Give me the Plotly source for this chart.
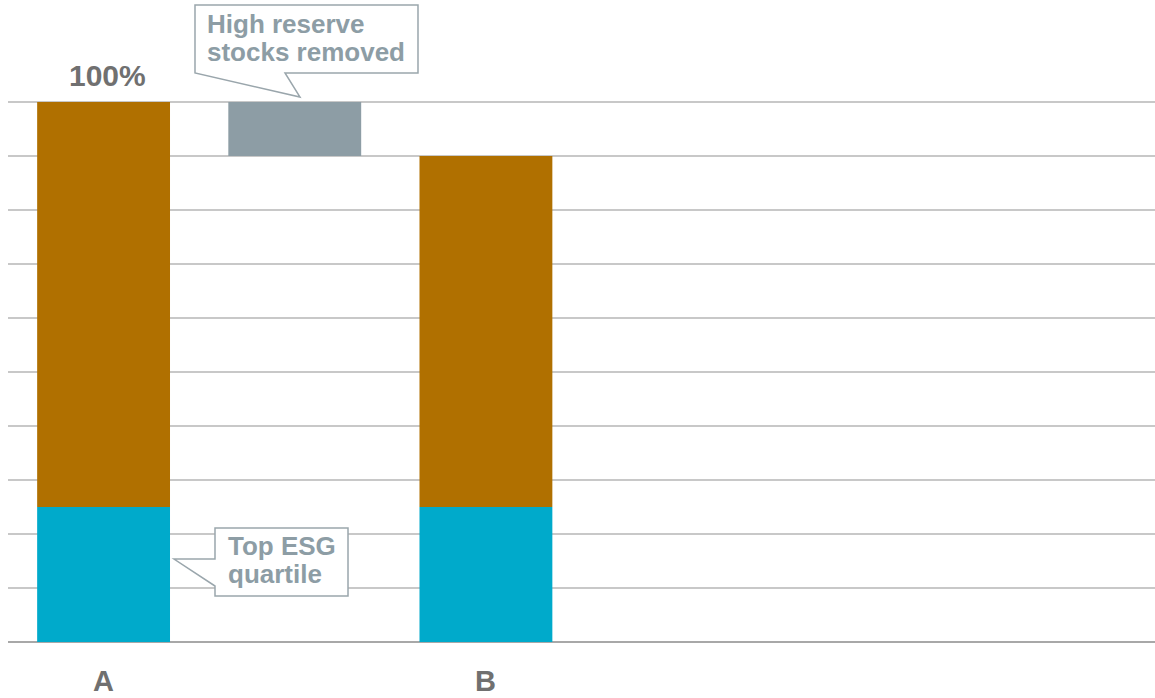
import plotly.graph_objects as go

# ---- data ----
categories = ["A", "High reserve stocks removed", "B"]
x_pos = [0, 1, 2]
top_esg_quartile = [25, 25]          # A, B
rest_of_index = [75, 65]              # A, B
removed_base = [90]
removed_value = [10]
tick_labels = ["A", "B"]
total_label = "100%"

C_CYAN = "#00AACB"
C_BROWN = "#B07000"
C_GRAY = "#8D9DA5"
C_TEXT = "#707070"
C_CALL = "#8D9DA5"
FONT = "Liberation Sans, Arial, sans-serif"

W, H = 1155, 698
HEAD = 4  # px of headroom above the 100 line so its gridline is drawn
L, R, T, B = 8, 0, 102 - HEAD, 56
PW, PH = W - L - R, H - T - B
YMAX = 100 + 100 * HEAD / 540


def px(x):
    return (x - L) / PW


def py(y):
    return (H - B - y) / PH


def path(points):
    return "M " + " L ".join(f"{px(a):.5f},{py(b):.5f}" for a, b in points) + " Z"


fig = go.Figure()
fig.add_trace(go.Bar(x=[x_pos[0], x_pos[2]], y=top_esg_quartile, base=[0, 0],
                     marker=dict(color=C_CYAN, line=dict(width=0)), width=0.695,
                     name="Top ESG quartile"))
fig.add_trace(go.Bar(x=[x_pos[0], x_pos[2]], y=rest_of_index, base=top_esg_quartile,
                     marker=dict(color=C_BROWN, line=dict(width=0)), width=0.695,
                     name="Other"))
fig.add_trace(go.Bar(x=[x_pos[1]], y=removed_value, base=removed_base,
                     marker=dict(color=C_GRAY, line=dict(width=0)), width=0.695,
                     name="High reserve stocks removed"))

fig.update_layout(
    width=W, height=H,
    margin=dict(l=L, r=R, t=T, b=B, pad=0),
    barmode="overlay",
    showlegend=False,
    plot_bgcolor="white", paper_bgcolor="white",
    font=dict(family=FONT),
    xaxis=dict(range=[-0.5, 5.5], showticklabels=False, showgrid=False,
               zeroline=False, showline=False, fixedrange=True),
    yaxis=dict(range=[0, YMAX], tick0=0, dtick=10, showticklabels=False,
               gridcolor="#C8C8C8", gridwidth=1.5, zeroline=True,
               zerolinecolor="#A8A8A8", zerolinewidth=1.5, showline=False,
               fixedrange=True),
)

annotations = []
for xv, lab in zip([x_pos[0], x_pos[2]], tick_labels):
    annotations.append(dict(x=xv, y=py(681), xref="x", yref="paper", text=f"<b>{lab}</b>",
                            showarrow=False, font=dict(size=29, color=C_TEXT, family=FONT),
                            xanchor="center", yanchor="middle"))
annotations.append(dict(x=x_pos[0] + 0.02, y=100, xref="x", yref="y", text=f"<b>{total_label}</b>",
                        showarrow=False, font=dict(size=30, color=C_TEXT, family=FONT),
                        xanchor="center", yanchor="bottom", yshift=8))

# callout texts
for txt, x0, ycen in [("High reserve", 205, 24), ("stocks removed", 205, 52),
                      ("Top ESG", 226, 546), ("quartile", 226, 574)]:
    annotations.append(dict(x=px(x0), y=py(ycen), xref="paper", yref="paper",
                            text=f"<b>{txt}</b>", showarrow=False,
                            font=dict(size=26, color=C_CALL, family=FONT),
                            xanchor="left", yanchor="middle"))
fig.update_layout(annotations=annotations)

shapes = [
    dict(type="path", xref="paper", yref="paper",
         path=path([(195, 5), (418, 5), (418, 73), (285, 73), (300, 97), (195, 73)]),
         line=dict(color="#9AA6AC", width=1.5), fillcolor="white", layer="above"),
    dict(type="path", xref="paper", yref="paper",
         path=path([(215, 528), (348, 528), (348, 596), (215, 596), (215, 586), (174, 559), (215, 559)]),
         line=dict(color="#9AA6AC", width=1.5), fillcolor="white", layer="above"),
]
fig.update_layout(shapes=shapes)

fig.write_html("out.html", config={"displayModeBar": False, "staticPlot": True},
               post_script="document.body.style.margin='0';document.body.style.overflow='hidden';")
